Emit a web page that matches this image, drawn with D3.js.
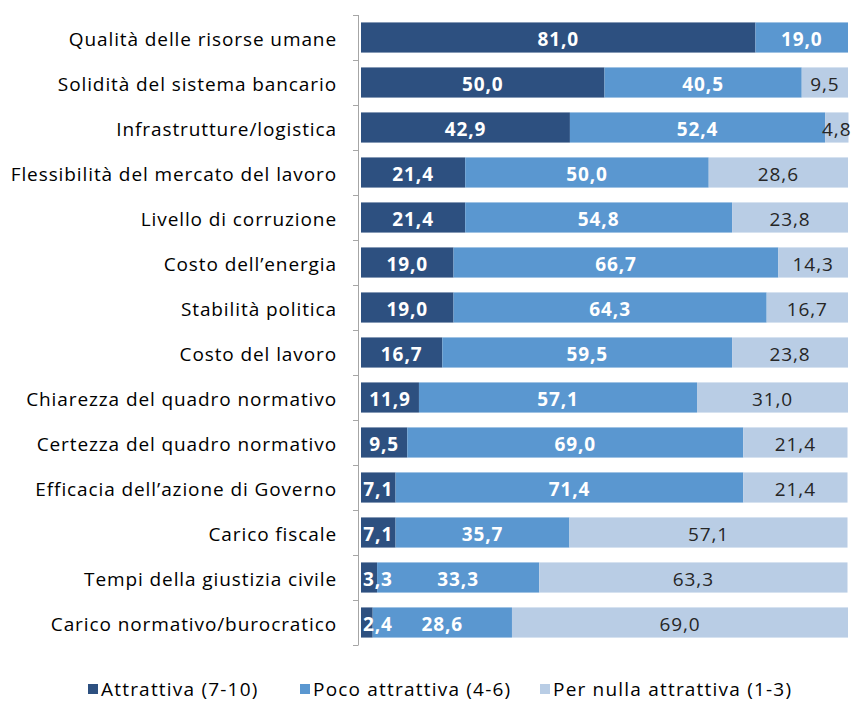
<!DOCTYPE html>
<html>
<head>
<meta charset="utf-8">
<script src="https://cdn.jsdelivr.net/npm/d3@7"></script>
<style>
  html, body { margin: 0; padding: 0; background: #fff; }
  svg { display: block; }
  text { font-family: "Open Sans", "Noto Sans", sans-serif; letter-spacing: 0.9px; }
  .legend text { letter-spacing: 1.2px; }
</style>
</head>
<body>
<svg id="chart" width="851" height="716"></svg>
<script>
// Factors of attractiveness, share of answers per rating band (%)
const categories = [
  "Qualità delle risorse umane",
  "Solidità del sistema bancario",
  "Infrastrutture/logistica",
  "Flessibilità del mercato del lavoro",
  "Livello di corruzione",
  "Costo dell’energia",
  "Stabilità politica",
  "Costo del lavoro",
  "Chiarezza del quadro normativo",
  "Certezza del quadro normativo",
  "Efficacia dell’azione di Governo",
  "Carico fiscale",
  "Tempi della giustizia civile",
  "Carico normativo/burocratico"
];
const attrattiva      = [81.0, 50.0, 42.9, 21.4, 21.4, 19.0, 19.0, 16.7, 11.9, 9.5, 7.1, 7.1, 3.3, 2.4];
const pocoAttrattiva  = [19.0, 40.5, 52.4, 50.0, 54.8, 66.7, 64.3, 59.5, 57.1, 69.0, 71.4, 35.7, 33.3, 28.6];
const perNulla        = [null, 9.5, 4.8, 28.6, 23.8, 14.3, 16.7, 23.8, 31.0, 21.4, 21.4, 57.1, 63.3, 69.0];
const seriesNames = ["Attrattiva (7-10)", "Poco attrattiva (4-6)", "Per nulla attrattiva (1-3)"];

const colors = ["#2d5080", "#5a97d0", "#b9cde5"];
const labelColors = ["#ffffff", "#ffffff", "#262626"];
const labelWeights = ["bold", "bold", "normal"];
const fontSize = 19;
const textDy = 8;   // baseline offset below the band centre

const svg = d3.select("#chart");
const x0 = 361, x1 = 848, yTop = 15, yBottom = 645;

const x = d3.scaleLinear().domain([0, 100]).range([x0, x1]);
const y = d3.scaleBand().domain(categories).range([yTop, yBottom])
  .paddingInner(0.33).paddingOuter(0.165);

const seriesValues = [attrattiva, pocoAttrattiva, perNulla];
const rows = categories.map((c, i) => {
  const r = { cat: c };
  seriesNames.forEach((s, k) => r[s] = seriesValues[k][i] || 0);
  return r;
});
const stacked = d3.stack().keys(seriesNames)(rows);

// Bars
const layers = svg.append("g").selectAll("g").data(stacked).join("g")
  .attr("fill", (d, k) => colors[k]);
layers.selectAll("rect").data(d => d).join("rect")
  .filter(d => d[1] - d[0] > 0)
  .attr("x", d => x(d[0]))
  .attr("y", d => y(d.data.cat))
  .attr("width", d => x(d[1]) - x(d[0]))
  .attr("height", y.bandwidth());

// Value labels, nudged right when they would spill past the bar start
const labelG = svg.append("g").attr("font-size", fontSize);
stacked.forEach((layer, k) => {
  layer.forEach((d, i) => {
    const v = seriesValues[k][i];
    if (v == null) return;
    const t = labelG.append("text")
      .attr("y", y(d.data.cat) + y.bandwidth() / 2 + textDy)
      .attr("text-anchor", "middle")
      .attr("fill", labelColors[k])
      .attr("font-weight", labelWeights[k])
      .text(d3.format(".1f")(v).replace(".", ","));
    const w = t.node().getComputedTextLength();
    let cx = (x(d[0]) + x(d[1])) / 2;
    cx = Math.max(cx, x0 + w / 2 + 2);
    cx = Math.min(cx, 852 - w / 2);
    t.attr("x", cx);
  });
});

// Category axis with ticks between categories
const axisX = 358;
const axisG = svg.append("g").attr("stroke", "#a6a6a6").attr("stroke-width", 1);
axisG.append("line").attr("x1", axisX + 0.5).attr("x2", axisX + 0.5)
  .attr("y1", yTop).attr("y2", yBottom);
const boundaries = d3.range(categories.length + 1).map(i => yTop + i * y.step());
axisG.selectAll("line.tick").data(boundaries).join("line")
  .attr("class", "tick")
  .attr("x1", axisX - 5).attr("x2", axisX + 0.5)
  .attr("y1", d => Math.round(d) + 0.5).attr("y2", d => Math.round(d) + 0.5);

svg.append("g").attr("font-size", fontSize).attr("fill", "#000")
  .selectAll("text").data(categories).join("text")
  .attr("x", 337)
  .attr("y", d => y(d) + y.bandwidth() / 2 + textDy)
  .attr("text-anchor", "end")
  .text(d => d);

// Legend
const legendX = [88, 300, 540];
const lg = svg.append("g").attr("class", "legend").attr("font-size", fontSize);
seriesNames.forEach((s, k) => {
  lg.append("rect").attr("x", legendX[k]).attr("y", 684).attr("width", 10).attr("height", 10)
    .attr("fill", colors[k]);
  lg.append("text").attr("x", legendX[k] + 13).attr("y", 696)
    .attr("fill", "#000").text(s);
});
</script>
</body>
</html>
